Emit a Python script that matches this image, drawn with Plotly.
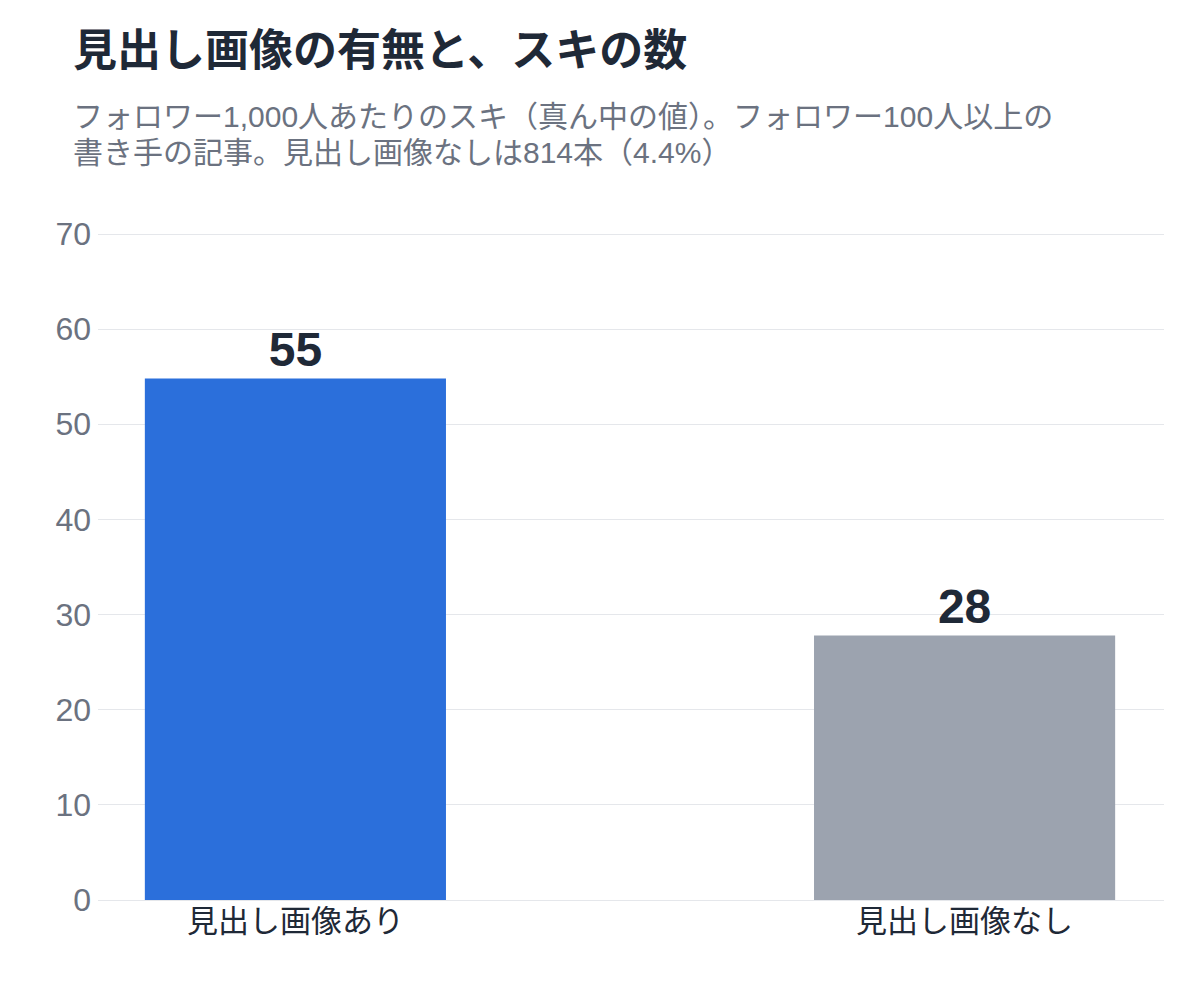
import plotly.graph_objects as go

categories = ["見出し画像あり", "見出し画像なし"]
values = [54.8, 27.8]
bar_colors = ["#2b6fdb", "#9ca3af"]
y_ticks = [0, 10, 20, 30, 40, 50, 60, 70]

title_text = "見出し画像の有無と、スキの数"
subtitle_lines = [
    "フォロワー1,000人あたりのスキ（真ん中の値）。フォロワー100人以上の",
    "書き手の記事。見出し画像なしは814本（4.4%）",
]

FONT = "Liberation Sans, Noto Sans CJK JP, sans-serif"

# the page body has an 8px margin; lay out in page coordinates minus that offset
OFF = 8
W, H = 1200 - OFF, 1000 - OFF
PLOT_TOP, PLOT_BOTTOM, PLOT_LEFT, PLOT_RIGHT = 230, 900, 98, 1164  # page pixels
L = PLOT_LEFT - OFF
T = PLOT_TOP - OFF
R = (W + OFF) - PLOT_RIGHT
B = (H + OFF) - PLOT_BOTTOM
plot_w = W - L - R
plot_h = H - T - B
y_top = 70 * (PLOT_BOTTOM - PLOT_TOP) / 666.0

fig = go.Figure(
    go.Bar(
        x=categories,
        y=values,
        marker=dict(color=bar_colors, line=dict(width=0)),
        width=0.45,
        text=values,
        texttemplate="%{y:.0f}",
        textposition="outside",
        cliponaxis=False,
        textfont=dict(family=FONT, size=48, color="#1f2937", weight="bold"),
        hoverinfo="skip",
    )
)

def py(ypix):
    return 1 + (T - (ypix - OFF)) / plot_h

def px(xpix):
    return ((xpix - OFF) - L) / plot_w

annotations = [
    dict(text=subtitle_lines[0], x=px(71), y=py(117), yanchor="middle"),
    dict(text=subtitle_lines[1], x=px(71), y=py(152), yanchor="middle"),
]
for a in annotations:
    a.update(xref="paper", yref="paper", xanchor="left", showarrow=False,
             font=dict(family=FONT, size=30, color="#6b7280"))

fig.update_layout(
    width=W,
    height=H,
    margin=dict(l=L, r=R, t=T, b=B, autoexpand=False),
    paper_bgcolor="white",
    plot_bgcolor="white",
    showlegend=False,
    font=dict(family=FONT),
    title=dict(
        text="<b>" + title_text + "</b>",
        x=(75 - OFF - 2) / W,
        xanchor="left",
        xref="container",
        y=1 - (51 - OFF) / H,
        yanchor="middle",
        yref="container",
        font=dict(family=FONT, size=44, color="#1f2937"),
    ),
    annotations=annotations,
    xaxis=dict(
        range=[-0.295, 1.298],
        showgrid=False,
        showline=False,
        zeroline=False,
        ticks="",
        tickfont=dict(family=FONT, size=31, color="#1f2937"),
        fixedrange=True,
    ),
    yaxis=dict(
        range=[0, y_top],
        tickvals=y_ticks,
        showgrid=True,
        gridcolor="#e5e7eb",
        gridwidth=1,
        zeroline=True,
        zerolinecolor="#e5e7eb",
        zerolinewidth=1,
        showline=False,
        ticks="",
        ticklabelstandoff=6,
        tickfont=dict(family=FONT, size=32, color="#6b7280"),
        fixedrange=True,
    ),
    bargap=0.2,
)

fig.write_html("out.html")
